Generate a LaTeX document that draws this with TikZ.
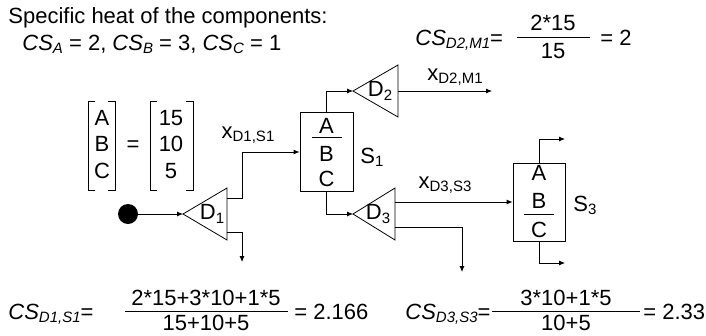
\documentclass[tikz,border=0pt]{standalone}
\usepackage{fontspec}
\setmainfont{Liberation Sans}
\usetikzlibrary{arrows.meta}
\newcommand\sbx[1]{\raisebox{-3.5pt}{\fontsize{15}{15}\selectfont #1}}
\newcommand\csx[1]{\textit{CS\sbx{#1}}}
\begin{document}
\begin{tikzpicture}[x=1pt,y=-1pt,
  font=\fontsize{22}{26}\selectfont,
  line width=0.8pt,
  arr/.style={-{Latex[length=6pt,width=5pt]}},
  lbl/.style={inner sep=0pt, anchor=base},
  lblw/.style={inner sep=0pt, anchor=base west},
  box/.style={draw, inner sep=0pt, minimum width=53pt, minimum height=79pt},
  tri/.style={draw, line join=miter}]
\useasboundingbox (0,0) rectangle (706,335);

% header text
\node[lblw] (title) at (8,23) {Specific heat of the components:};
\node[lblw] (csabc) at (22,50) {\csx{A} = 2, \csx{B} = 3, \csx{C} = 1};

% composition vector
\node[lbl] (mA) at (102,125) {A};
\node[lbl] (mB) at (102,151) {B};
\node[lbl] (mC) at (102,178) {C};
\node[lbl] (meq) at (133,151) {=};
\node[lbl] (v1) at (171,125) {15};
\node[lbl] (v2) at (171,151) {10};
\node[lbl] (v3) at (171,178) {5};
\draw (95,101) -| (88,190) -- (95,190);
\draw (108,101) -| (115,190) -- (108,190);
\draw (157,101) -| (150,190) -- (157,190);
\draw (186,101) -| (193,190) -- (186,190);

% source
\node[circle, fill=black, minimum size=20pt, inner sep=0pt] (src) at (128,214) {};

% D1
\coordinate (D1t) at (183,214);
\coordinate (D1a) at (227,198);
\coordinate (D1b) at (227,232);
\draw[tri] (D1t) -- (227,188) -- (227,240) -- cycle;
\node[inner sep=0pt] (D1l) at (212,214) {D\sbx{1}};
\coordinate (D1out) at (242,262);

% S1
\node[box] (S1) at (326.5,152) {};
\node[lbl] (S1A) at (326.5,133) {A};
\draw (312,137) -- (342,137);
\node[lbl] (S1B) at (326.5,161) {B};
\node[lbl] (S1C) at (326.5,186) {C};
\node[lblw] (S1n) at (360,163) {S\sbx{1}};

% D2
\coordinate (D2t) at (353,91);
\coordinate (D2o) at (398,91);
\draw[tri] (D2t) -- (398,65) -- (398,117) -- cycle;
\node[inner sep=0pt] (D2l) at (380,91) {D\sbx{2}};
\coordinate (D2end) at (492,91);
\node[lbl] (xD2) at (455,80) {x\sbx{D2,M1}};

% D3
\coordinate (D3t) at (353,214);
\coordinate (D3a) at (395,202);
\coordinate (D3b) at (395,227);
\draw[tri] (D3t) -- (395,188) -- (395,240) -- cycle;
\node[inner sep=0pt] (D3l) at (378,214) {D\sbx{3}};
\coordinate (D3out) at (462,272);
\node[lbl] (xD3) at (445,188) {x\sbx{D3,S3}};

% S3
\node[box, minimum width=52pt, minimum height=78pt] (S3) at (539,202) {};
\node[lbl] (S3A) at (539,180) {A};
\node[lbl] (S3B) at (539,208) {B};
\draw (524,214) -- (554,214);
\node[lbl] (S3C) at (539,237) {C};
\node[lblw] (S3n) at (573,211) {S\sbx{3}};
\coordinate (S3top) at (565,139);
\coordinate (S3bot) at (565,263);

% connectors
\draw[arr] (src) -- (D1t);
\draw[arr] (D1a) -- ++(15,0) |- (S1.west);
\draw[arr] (D1b) -| (D1out);
\node[lbl] (xD1) at (248,138) {x\sbx{D1,S1}};
\draw[arr] (S1.north) |- (D2t);
\draw[arr] (D2o) -- (D2end);
\draw[arr] (S1.south) |- (D3t);
\draw[arr] (D3a) -- (D3a -| S3.west);
\draw[arr] (D3b) -| (D3out);
\draw[arr] (S3.north) |- (S3top);
\draw[arr] (S3.south) |- (S3bot);

% formula D2,M1
\node[lblw] (f2l) at (415,45) {\csx{D2,M1}=};
\node[lbl] (f2n) at (553,30) {2*15};
\draw (517,37) -- (590,37);
\node[lbl] (f2d) at (553,58) {15};
\node[lblw] (f2r) at (600,45) {= 2};

% formula D1,S1
\node[lblw] (f1l) at (8,319) {\csx{D1,S1}=};
\node[lbl] (f1n) at (206,305) {2*15+3*10+1*5};
\draw (125,311) -- (288,311);
\node[lbl] (f1d) at (206,330) {15+10+5};
\node[lblw] (f1r) at (294,319) {= 2.166};

% formula D3,S3
\node[lblw] (f3l) at (405,319) {\csx{D3,S3}=};
\node[lbl] (f3n) at (566,305) {3*10+1*5};
\draw (492,311) -- (640,311);
\node[lbl] (f3d) at (566,330) {10+5};
\node[lblw] (f3r) at (643,319) {= 2.33};
\end{tikzpicture}
\end{document}
